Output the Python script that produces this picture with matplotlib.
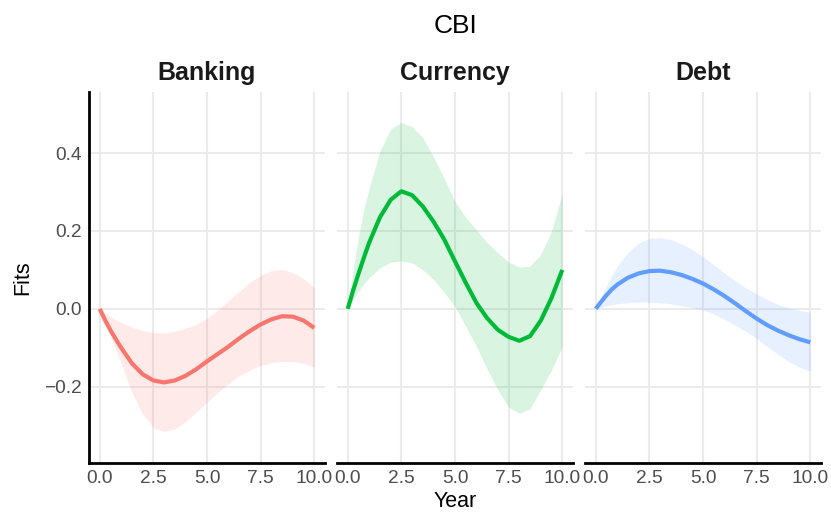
import numpy as np
import matplotlib
matplotlib.use("Agg")
import matplotlib.pyplot as plt

plt.rcParams['font.family'] = ['Liberation Sans', 'DejaVu Sans']

# Fitted smooth terms for CBI by crisis type
years = [0.0, 0.25, 0.5, 0.75, 1.0, 1.5, 2.0, 2.5, 3.0, 3.5, 4.0, 4.5, 5.0,
         5.5, 6.0, 6.5, 7.0, 7.5, 8.0, 8.5, 9.0, 9.5, 10.0]

banking_fit = [0.0, -0.029, -0.055, -0.078, -0.100, -0.140, -0.168, -0.184, -0.189, -0.184, -0.172, -0.155, -0.135,
               -0.116, -0.097, -0.076, -0.057, -0.040, -0.027, -0.019, -0.020, -0.030, -0.049]
banking_lo = [0.0, -0.035, -0.070, -0.105, -0.140, -0.215, -0.270, -0.305, -0.315, -0.308, -0.290, -0.265, -0.240,
              -0.215, -0.192, -0.172, -0.157, -0.146, -0.139, -0.135, -0.135, -0.140, -0.149]
banking_hi = [0.0, -0.011, -0.020, -0.028, -0.035, -0.047, -0.056, -0.061, -0.062, -0.058, -0.050, -0.040, -0.024,
              -0.003, 0.020, 0.045, 0.068, 0.086, 0.098, 0.101, 0.093, 0.077, 0.055]

currency_fit = [0.0, 0.047, 0.090, 0.131, 0.170, 0.235, 0.280, 0.302, 0.292, 0.263, 0.224, 0.178, 0.122,
                0.067, 0.015, -0.024, -0.054, -0.072, -0.082, -0.070, -0.030, 0.028, 0.100]
currency_lo = [0.0, 0.024, 0.045, 0.064, 0.080, 0.105, 0.120, 0.123, 0.118, 0.100, 0.075, 0.042, 0.006,
               -0.045, -0.097, -0.155, -0.208, -0.253, -0.268, -0.256, -0.208, -0.157, -0.097]
currency_hi = [0.0, 0.100, 0.185, 0.255, 0.310, 0.405, 0.462, 0.479, 0.468, 0.440, 0.390, 0.335, 0.275,
               0.235, 0.203, 0.170, 0.144, 0.120, 0.107, 0.110, 0.140, 0.200, 0.297]

debt_fit = [0.0, 0.018, 0.035, 0.050, 0.062, 0.080, 0.091, 0.097, 0.098, 0.094, 0.087, 0.077, 0.065,
            0.050, 0.033, 0.014, -0.006, -0.025, -0.042, -0.056, -0.068, -0.078, -0.086]
debt_lo = [0.0, 0.004, 0.008, 0.011, 0.013, 0.016, 0.017, 0.017, 0.016, 0.013, 0.008, 0.003, -0.003,
           -0.013, -0.027, -0.042, -0.058, -0.076, -0.097, -0.117, -0.135, -0.150, -0.160]
debt_hi = [0.0, 0.031, 0.060, 0.086, 0.109, 0.145, 0.169, 0.181, 0.183, 0.178, 0.167, 0.152, 0.134,
           0.113, 0.092, 0.072, 0.054, 0.038, 0.024, 0.011, 0.002, -0.004, -0.009]

panels = ["Banking", "Currency", "Debt"]
colors = ["#F8766D", "#00BA38", "#619CFF"]
series = [
    (banking_fit, banking_lo, banking_hi),
    (currency_fit, currency_lo, currency_hi),
    (debt_fit, debt_lo, debt_hi),
]

xticks = [0.0, 2.5, 5.0, 7.5, 10.0]
xticklabels = ["0.0", "2.5", "5.0", "7.5", "10.0"]
yticks = [-0.2, 0.0, 0.2, 0.4]
yticklabels = ["\u22120.2", "0.0", "0.2", "0.4"]

fig = plt.figure(figsize=(8.31, 5.17), dpi=100)
W, H = 831, 517
lefts = [89, 337, 585]
pw = 236
top, bottom = 92, 463

grid_col = "#EBEBEB"
tick_col = "#4D4D4D"

for i, (name, col, (fit, lo, hi)) in enumerate(zip(panels, colors, series)):
    ax = fig.add_axes([lefts[i] / W, 1 - bottom / H, pw / W, (bottom - top) / H])
    ax.fill_between(years, lo, hi, color=col, alpha=0.15, linewidth=0, zorder=2)
    ax.plot(years, fit, color=col, linewidth=3.0, solid_capstyle="butt",
            solid_joinstyle="round", zorder=3)
    ax.set_xlim(-0.5, 10.5)
    ax.set_ylim(-0.396, 0.557)
    ax.set_xticks(xticks)
    ax.set_yticks(yticks)
    ax.grid(True, color=grid_col, linewidth=1.5, zorder=0)
    ax.set_axisbelow(True)
    for s in ["top", "right"]:
        ax.spines[s].set_visible(False)
    ax.spines["bottom"].set_color("black")
    ax.spines["bottom"].set_linewidth(2.0)
    ax.tick_params(length=0, labelsize=13.8, labelcolor=tick_col, pad=5)
    ax.set_xticklabels(xticklabels)
    if i == 0:
        ax.spines["left"].set_color("black")
        ax.spines["left"].set_linewidth(2.0)
        ax.set_yticklabels(yticklabels)
        ax.set_ylabel("Fits", fontsize=15.5, labelpad=8)
    else:
        ax.spines["left"].set_visible(False)
        ax.set_yticklabels([])
    if i == 1:
        ax.set_xlabel("Year", fontsize=15.5, labelpad=3)
    ax.set_title(name, fontsize=18, fontweight="bold", color="#1A1A1A", pad=8.5)

fig.text(455 / W, 1 - 33 / H, "CBI", ha="center", va="baseline", fontsize=19)

fig.savefig("out.png", dpi=100)
